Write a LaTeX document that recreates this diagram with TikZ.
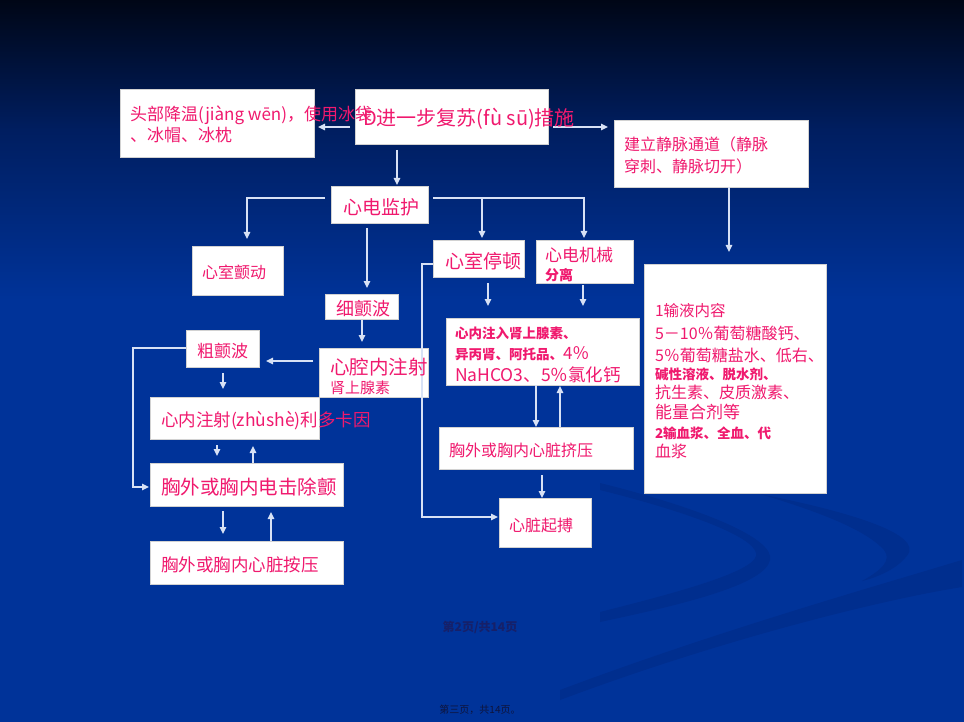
\documentclass[tikz,border=0pt]{standalone}
\usepackage{fontspec}
\setmainfont{Noto Sans CJK SC}
\usetikzlibrary{arrows.meta}
\definecolor{txtpink}{RGB}{240,25,110}
\definecolor{bgblue}{RGB}{0,51,153}
\definecolor{bgtop}{RGB}{0,6,22}
\definecolor{bgmid}{RGB}{0,30,96}
\definecolor{swoosh}{RGB}{0,46,142}
\definecolor{linec}{RGB}{215,225,245}
\definecolor{pagec}{RGB}{22,32,105}
\definecolor{notec}{RGB}{15,20,60}
\newcommand{\fs}[1]{\fontsize{#1}{#1}\selectfont}

\begin{document}
\begin{tikzpicture}[x=1pt,y=-1pt]
\tikzstyle{every node}+=[inner sep=0pt, outer sep=0pt]
\tikzstyle{box}=[fill=white, draw=gray!35, line width=0.4pt, anchor=north west]
\tikzstyle{txt}=[anchor=west, text=txtpink, font=\fs{17}]
\tikzstyle{arr}=[draw=linec, line width=1.3pt, -{Triangle[length=7pt,width=6.5pt]}]
\useasboundingbox (0,0) rectangle (964,722);
\shade[top color=bgtop, bottom color=bgmid] (0,0) rectangle (964,130);
\shade[top color=bgmid, bottom color=bgblue] (0,130) rectangle (964,300);
\fill[bgblue] (0,300) rectangle (964,722);
\fill[swoosh] (600,483) .. controls (700,508) and (775,538) .. (770,560) .. controls (765,585) and (680,605) .. (600,622) -- (600,612) .. controls (680,592) and (752,572) .. (756,556) .. controls (760,540) and (700,515) .. (600,490) -- cycle;
\fill[swoosh] (760,494) .. controls (880,518) and (925,540) .. (905,558) .. controls (895,570) and (875,578) .. (862,581) .. controls (882,570) and (892,560) .. (884,550) .. controls (866,530) and (820,512) .. (760,494) -- cycle;
\fill[swoosh] (560,690) .. controls (720,630) and (880,585) .. (962,560) -- (962,587) .. controls (880,600) and (720,640) .. (560,700) -- cycle;

\node[box, minimum width=194pt, minimum height=68pt] (cool) at (120,89) {};
\node[box, minimum width=193pt, minimum height=55pt] (fur) at (355,89) {};
\node[box, minimum width=194pt, minimum height=67pt] (vein) at (614,120) {};
\node[box, minimum width=97pt, minimum height=37pt] (ecg) at (331,186) {};
\node[box, minimum width=91pt, minimum height=49pt] (vf) at (192,246) {};
\node[box, minimum width=73pt, minimum height=25pt] (fine) at (325,294) {};
\node[box, minimum width=109pt, minimum height=49pt] (icinj) at (319,348) {};
\node[box, minimum width=73pt, minimum height=37pt] (coarse) at (186,330) {};
\node[box, minimum width=169pt, minimum height=42pt] (lido) at (150,397) {};
\node[box, minimum width=193pt, minimum height=43pt] (defib) at (150,463) {};
\node[box, minimum width=193pt, minimum height=43pt] (press) at (150,541) {};
\node[box, minimum width=91pt, minimum height=37pt] (asys) at (433,240) {};
\node[box, minimum width=97pt, minimum height=43pt] (emd) at (536,240) {};
\node[box, minimum width=193pt, minimum height=67pt] (drug) at (446,318) {};
\node[box, minimum width=194pt, minimum height=42pt] (squeeze) at (439,427) {};
\node[box, minimum width=92pt, minimum height=49pt] (pace) at (499,498) {};
\node[box, minimum width=182pt, minimum height=229pt] (fluid) at (644,264) {};

\draw[arr, shorten <=5pt, shorten >=4pt] (fur.west |- 0,127) -- (cool.east |- 0,127);
\draw[arr, shorten <=5pt, shorten >=6pt] (fur.east |- 0,127) -- (vein.west |- 0,127);
\draw[arr, shorten <=6pt, shorten >=1pt] (397,0 |- fur.south) -- (397,0 |- ecg.north);
\draw[arr, shorten <=6pt, shorten >=7pt] (ecg.west |- 0,198) -| (247,0 |- vf.north);
\draw[arr, shorten <=5pt, shorten >=6pt] (367,0 |- ecg.south) -- (367,0 |- fine.north);
\draw[arr, shorten <=5pt, shorten >=2pt] (ecg.east |- 0,198) -| (584,0 |- emd.north);
\draw[arr, shorten >=2pt] (482,198) -- (482,0 |- asys.north);
\draw[arr, shorten <=1pt, shorten >=6pt] (362,0 |- fine.south) -- (362,0 |- icinj.north);
\draw[arr, shorten <=6pt, shorten >=7pt] (icinj.west |- 0,361) -- (coarse.east |- 0,361);
\draw[arr, shorten <=6pt, shorten >=8pt] (223,0 |- coarse.south) -- (223,0 |- lido.north);
\draw[arr, shorten >=1pt] (coarse.west |- 0,348) -| (133,487) -- (defib.west |- 0,487);
\draw[arr, shorten <=6pt, shorten >=7pt] (217,0 |- lido.south) -- (217,0 |- defib.north);
\draw[arr, shorten >=7pt] (253,0 |- defib.north) -- (253,0 |- lido.south);
\draw[arr, shorten <=5pt, shorten >=7pt] (223,0 |- defib.south) -- (223,0 |- press.north);
\draw[arr, shorten >=6pt] (271,0 |- press.north) -- (271,0 |- defib.south);
\draw[arr, shorten >=1pt] (asys.west |- 0,264) -| (422,517) -- (pace.west |- 0,517);
\draw[arr, shorten <=6pt, shorten >=12pt] (488,0 |- asys.south) -- (488,0 |- drug.north);
\draw[arr, shorten <=2pt, shorten >=12pt] (583,0 |- emd.south) -- (583,0 |- drug.north);
\draw[arr] (536,0 |- drug.south) -- (536,0 |- squeeze.north);
\draw[arr, shorten >=1pt] (560,0 |- squeeze.north) -- (560,0 |- drug.south);
\draw[arr, shorten <=6pt] (542,0 |- squeeze.south) -- (542,0 |- pace.north);
\draw[arr, shorten >=12pt] (729,0 |- vein.south) -- (729,0 |- fluid.north);

\node[txt] (coolA) at (130,115) {头部降温(jiàng wēn)，使用冰袋};
\node[txt] (coolB) at (130,135) {、冰帽、冰枕};
\node[txt, font=\fs{20}] (furT) at (363,119) {D进一步复苏(fù sū)措施};
\node[txt, font=\fs{16}] (veinA) at (624,144) {建立静脉通道（静脉};
\node[txt, font=\fs{16}] (veinB) at (624,166) {穿刺、静脉切开）};
\node[txt, font=\fs{19}] (ecgT) at (343,207) {心电监护};
\node[txt, font=\fs{16}] (vfT) at (202,272) {心室颤动};
\node[txt, font=\fs{18}] (fineT) at (336,309) {细颤波};
\node[txt, font=\fs{19.5}] (icinjA) at (330,367) {心腔内注射};
\node[txt, font=\fs{15}] (icinjB) at (330,388) {肾上腺素};
\node[txt] (coarseT) at (197,351) {粗颤波};
\node[txt, font=\fs{17.5}] (lidoT) at (161,421) {心内注射(zhùshè)利多卡因};
\node[txt, font=\fs{19.5}] (defibT) at (161,487) {胸外或胸内电击除颤};
\node[txt, font=\fs{17.5}] (pressT) at (161,565) {胸外或胸内心脏按压};
\node[txt, font=\fs{19}] (asysT) at (445,261) {心室停顿};
\node[txt] (emdA) at (545,255) {心电机械};
\node[txt, font=\fs{14}\bfseries] (emdB) at (545,275) {分离};
\node[txt, font=\fs{13.5}\bfseries] (drugA) at (455,333) {心内注入肾上腺素、};
\node[txt, font=\fs{13.5}\bfseries] (drugB) at (455,354) {异丙肾、阿托品、{\mdseries\fs{17}4％}};
\node[txt, font=\fs{17.5}] (drugC) at (455,375) {NaHCO3、5％氯化钙};
\node[txt, font=\fs{16}] (squeezeT) at (449,450) {胸外或胸内心脏挤压};
\node[txt, font=\fs{16}] (paceT) at (509,525) {心脏起搏};
\node[txt, font=\fs{15.5}] (fluidA) at (655,311) {1输液内容};
\node[txt, font=\fs{16}] (fluidB) at (655,333) {5－10％葡萄糖酸钙、};
\node[txt, font=\fs{16}] (fluidC) at (655,355) {5％葡萄糖盐水、低右、};
\node[txt, font=\fs{13.5}\bfseries] (fluidD) at (655,374) {碱性溶液、脱水剂、};
\node[txt, font=\fs{16}] (fluidE) at (655,392) {抗生素、皮质激素、};
\node[txt, font=\fs{17}] (fluidF) at (655,412) {能量合剂等};
\node[txt, font=\fs{13.5}\bfseries] (fluidG) at (655,433) {2输血浆、全血、代};
\node[txt, font=\fs{16}] (fluidH) at (655,451) {血浆};
\node[text=pagec, font=\fs{12}\bfseries] (page) at (480,627) {第2页/共14页};
\node[text=notec, font=\fs{10}] (note) at (480,710) {第三页，共14页。};
\end{tikzpicture}
\end{document}
